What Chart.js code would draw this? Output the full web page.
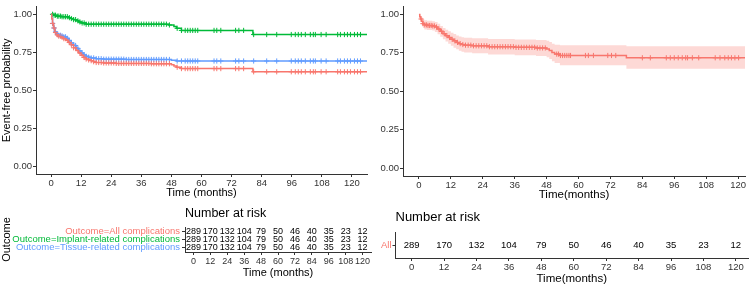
<!DOCTYPE html>
<html><head><meta charset="utf-8">
<script src="https://cdn.jsdelivr.net/npm/chart.js@4"></script>
<style>
html,body{margin:0;padding:0;background:#fff;width:750px;height:286px;overflow:hidden}
canvas{position:absolute}
</style></head><body>
<canvas id="kmLeft" width="372" height="200" style="left:0px;top:0px"></canvas>
<canvas id="kmRight" width="370" height="202" style="left:380px;top:0px"></canvas>
<canvas id="riskLeft" width="372" height="86" style="left:0px;top:200px"></canvas>
<canvas id="riskRight" width="370" height="84" style="left:380px;top:202px"></canvas>
<script>
const FONT = "'Liberation Sans', Arial, sans-serif";
const RED = '#F8766D', GREEN = '#00BA38', BLUE = '#619CFF';

const xTickValues = [0, 12, 24, 36, 48, 60, 72, 84, 96, 108, 120];
const yTickValues = [0, 0.25, 0.5, 0.75, 1];

// Left panel: All complications
const allTimes = [0, 0.3, 0.6, 1, 1.5, 2, 3, 4, 5, 6, 7, 8, 9, 10, 11, 12, 13, 14, 15, 16, 17, 18, 21, 26, 40, 48, 49, 50, 52, 80.5, 126];
const allSurv  = [1.00, 0.97, 0.94, 0.91, 0.88, 0.865, 0.856, 0.85, 0.84, 0.83, 0.815, 0.80, 0.78, 0.762, 0.746, 0.73, 0.716, 0.706, 0.70, 0.695, 0.688, 0.683, 0.680, 0.677, 0.675, 0.668, 0.66, 0.652, 0.643, 0.622, 0.622];
// Left panel: Implant-related complications
const implantTimes = [0, 1, 2, 4, 7, 8, 9, 10, 11, 12, 14, 47, 49, 50, 52, 80.5, 126];
const implantSurv  = [1.00, 0.994, 0.988, 0.984, 0.978, 0.972, 0.965, 0.957, 0.95, 0.943, 0.935, 0.93, 0.92, 0.908, 0.894, 0.867, 0.867];
// Left panel: Tissue-related complications
const tissueTimes = [0, 0.3, 0.6, 1, 1.5, 2, 3, 4, 5, 6, 7, 8, 9, 10, 11, 12, 13, 14, 15, 16, 18, 21, 30, 48, 50, 126];
const tissueSurv  = [1.00, 0.97, 0.94, 0.91, 0.885, 0.87, 0.862, 0.858, 0.852, 0.842, 0.828, 0.812, 0.795, 0.776, 0.76, 0.746, 0.733, 0.724, 0.718, 0.713, 0.708, 0.705, 0.703, 0.698, 0.693, 0.693];
const censorLeft = [0.6,1.2,1.8,2.5,3.1,3.8,4.4,5.1,5.8,6.5,7.3,8.1,9,9.8,10.7,11.5,12.4,13.2,14,15,16,17,18,19,20,21,22,23,24,25,26,27,28,29,30,31,32,33,34,35,36,37,38,39,40,41,42,43,44,45,46,47.2,50.3,52,53.5,54.5,55.5,56.5,57.5,58.5,65,66.1,67.7,73.6,74.9,76.8,80.8,86,90,95.8,97.4,98.6,99.8,101.4,103.4,104.6,105.4,107.7,109.7,114.3,115.4,117,118.2,119.4,121,122.2,123.4];

// Right panel: overall with confidence band
const overallTimes = [0, 0.3, 0.6, 1, 1.5, 2, 3, 5, 6, 7, 8, 9, 10, 11, 12, 13, 14, 15, 16, 17, 20, 26, 36, 44, 48, 49, 50, 51, 53, 78, 126];
const overallSurv  = [1.0, 0.985, 0.97, 0.955, 0.94, 0.932, 0.928, 0.925, 0.918, 0.905, 0.89, 0.875, 0.862, 0.85, 0.838, 0.828, 0.818, 0.81, 0.804, 0.80, 0.796, 0.79, 0.786, 0.782, 0.775, 0.765, 0.752, 0.742, 0.733, 0.718, 0.718];
const overallUpper = [1.0, 1.0, 0.99, 0.98, 0.97, 0.962, 0.958, 0.955, 0.95, 0.94, 0.925, 0.912, 0.9, 0.89, 0.88, 0.872, 0.863, 0.856, 0.851, 0.848, 0.845, 0.84, 0.837, 0.834, 0.828, 0.82, 0.81, 0.803, 0.80, 0.793, 0.793];
const overallLower = [1.0, 0.97, 0.95, 0.93, 0.912, 0.902, 0.898, 0.895, 0.886, 0.871, 0.855, 0.838, 0.824, 0.81, 0.796, 0.784, 0.773, 0.764, 0.757, 0.752, 0.747, 0.74, 0.735, 0.73, 0.722, 0.71, 0.695, 0.684, 0.67, 0.647, 0.647];
const censorRight = [0.8,1.5,2.2,2.8,3.4,4,4.6,5.2,5.8,6.6,7.5,8.5,9.5,10.5,11.5,12.5,13.5,14.5,15.5,16.5,17.5,18.5,19.5,20.5,21.5,22.5,23.5,24.5,25.5,26.5,27.5,28.5,29.5,30.5,31.5,32.5,33.5,34.5,35.5,36.5,37.5,38.5,39.5,40.5,41.5,42.5,43.5,44.5,45.5,46.5,47.5,51.8,52.5,53.2,54,54.8,55.6,56.4,57,62.6,63.7,65.6,71,72.4,74,84,87,93,94.5,96,97.5,99,100.3,101,102.8,105.2,111.4,113.2,115,116.3,117.5,118.8,120.2];

// Number at risk
const riskTimes = [0, 12, 24, 36, 48, 60, 72, 84, 96, 108, 120];
const riskAll     = [289, 170, 132, 104, 79, 50, 46, 40, 35, 23, 12];
const riskImplant = [289, 170, 132, 104, 79, 50, 46, 40, 35, 23, 12];
const riskTissue  = [289, 170, 132, 104, 79, 50, 46, 40, 35, 23, 12];
const riskOverall = [289, 170, 132, 104, 79, 50, 46, 40, 35, 23, 12];
const rowLabelsLeft = ['Outcome=All complications', 'Outcome=Implant-related complications', 'Outcome=Tissue-related complications'];
const rowColorsLeft = [RED, GREEN, BLUE];
const rowLabelsRight = ['All'];
const rowColorsRight = [RED];

function stepAt(times, surv, t) {
  let v = surv[0];
  for (let i = 0; i < times.length; i++) { if (times[i] <= t) v = surv[i]; else break; }
  return v;
}
function stepData(times, vals) { return times.map((t, i) => ({x: t, y: vals[i]})); }
function lineDs(times, surv, color) {
  return {data: stepData(times, surv), showLine: true, stepped: true, borderColor: color, borderWidth: 1.5, pointRadius: 0, fill: false};
}
function censDs(times, surv, cens, color) {
  return {data: cens.map(t => ({x: t, y: stepAt(times, surv, t)})), showLine: false, pointStyle: 'cross', pointRadius: 2.6, borderColor: color, backgroundColor: color, borderWidth: 1};
}

function xAxis(min, max, title, titleSize, tickSize, padBottom, height) {
  return {
    type: 'linear', min, max,
    afterBuildTicks: s => { s.ticks = xTickValues.map(v => ({value: v})); },
    afterFit: s => { s.height = height; },
    grid: {display: true, drawOnChartArea: false, drawTicks: true, tickLength: 3, color: '#333', tickColor: '#333'},
    border: {display: true, color: '#333', width: 1},
    ticks: {font: {family: FONT, size: tickSize}, color: '#333', padding: 1, maxRotation: 0, autoSkip: false, callback: v => String(v)},
    title: {display: true, text: title, font: {family: FONT, size: titleSize}, color: '#000', padding: {top: 0, bottom: padBottom}}
  };
}
function yAxisKM(width, titleText) {
  return {
    type: 'linear', min: -0.05, max: 1.05,
    afterBuildTicks: s => { s.ticks = yTickValues.map(v => ({value: v})); },
    afterFit: s => { s.width = width; },
    grid: {display: true, drawOnChartArea: false, drawTicks: true, tickLength: 3, color: '#333', tickColor: '#333'},
    border: {display: true, color: '#333', width: 1},
    ticks: {font: {family: FONT, size: 9.5}, color: '#333', padding: 1, callback: v => Number(v).toFixed(2)},
    title: {display: !!titleText, text: titleText || '', font: {family: FONT, size: 11}, color: '#000', padding: {top: 0, bottom: 0}}
  };
}
const baseOpts = {responsive: false, animation: false, devicePixelRatio: 1, events: []};

new Chart(document.getElementById('kmLeft'), {
  type: 'scatter',
  data: {datasets: [
    lineDs(allTimes, allSurv, RED),
    lineDs(implantTimes, implantSurv, GREEN),
    lineDs(tissueTimes, tissueSurv, BLUE),
    censDs(allTimes, allSurv, censorLeft, RED),
    censDs(implantTimes, implantSurv, censorLeft, GREEN),
    censDs(tissueTimes, tissueSurv, censorLeft, BLUE)
  ]},
  options: Object.assign({}, baseOpts, {
    layout: {padding: {top: 5, right: 2, left: 0, bottom: 0}},
    plugins: {legend: {display: false}, tooltip: {enabled: false}},
    scales: {x: xAxis(-6, 126, 'Time (months)', 11, 9.5, 0, 26), y: yAxisKM(36, 'Event-free probability')}
  })
});

new Chart(document.getElementById('kmRight'), {
  type: 'scatter',
  data: {datasets: [
    lineDs(overallTimes, overallSurv, RED),
    censDs(overallTimes, overallSurv, censorRight, RED),
    {data: stepData(overallTimes, overallUpper), showLine: true, stepped: true, borderWidth: 0, borderColor: 'rgba(0,0,0,0)', pointRadius: 0, fill: '+1', backgroundColor: 'rgba(248,118,109,0.28)'},
    {data: stepData(overallTimes, overallLower), showLine: true, stepped: true, borderWidth: 0, borderColor: 'rgba(0,0,0,0)', pointRadius: 0, fill: false}
  ]},
  options: Object.assign({}, baseOpts, {
    layout: {padding: {top: 1, right: 2, left: 0, bottom: 0}},
    plugins: {legend: {display: false}, tooltip: {enabled: false}, filler: {propagate: false}},
    scales: {x: xAxis(-6, 122.6, 'Time(months)', 11.5, 9.5, 0, 26), y: yAxisKM(23, '')}
  })
});

const riskTextPlugin = {
  id: 'riskText',
  afterDraw(chart, args, opts) {
    const {ctx} = chart;
    const x = chart.scales.x, y = chart.scales.y;
    ctx.save();
    ctx.fillStyle = '#000';
    ctx.textAlign = 'center';
    ctx.textBaseline = 'middle';
    ctx.font = opts.size + 'px ' + FONT;
    opts.rows.forEach((row, ri) => {
      const py = y.getPixelForValue(ri);
      row.forEach((n, i) => ctx.fillText(String(n), x.getPixelForValue(riskTimes[i]), py));
    });
    ctx.textAlign = 'left';
    ctx.font = opts.titleSize + 'px ' + FONT;
    ctx.fillText(opts.title, chart.chartArea.left, opts.titleY);
    ctx.restore();
  }
};

function riskChart(id, labels, colors, rows, cfg) {
  new Chart(document.getElementById(id), {
    type: 'scatter',
    data: {datasets: []},
    plugins: [riskTextPlugin],
    options: Object.assign({}, baseOpts, {
      layout: {padding: {top: cfg.padTop, right: cfg.padRight, left: 0, bottom: 0}},
      plugins: {legend: {display: false}, tooltip: {enabled: false},
        riskText: {rows, size: cfg.numSize, title: 'Number at risk', titleSize: cfg.titleSize, titleY: cfg.titleY}},
      scales: {
        x: xAxis(-6, cfg.xmax, cfg.xTitle, cfg.xTitleSize, cfg.xTickSize, cfg.xPadBottom, cfg.xHeight),
        y: {
          type: 'category', labels, offset: true,
          afterFit: s => { s.width = cfg.yWidth; },
          grid: {display: true, drawOnChartArea: false, drawTicks: true, tickLength: 3, offset: false, color: '#333', tickColor: '#333'},
          border: {display: true, color: '#333', width: 1},
          ticks: {font: {family: FONT, size: 9.5}, padding: cfg.yTickPad, autoSkip: false, color: c => colors[c.index]},
          title: {display: !!cfg.yTitle, text: cfg.yTitle || '', font: {family: FONT, size: 11}, color: '#000', padding: {top: 0, bottom: 0}}
        }
      }
    })
  });
}

riskChart('riskLeft', rowLabelsLeft, rowColorsLeft, [riskAll, riskImplant, riskTissue],
  {padTop: 27, padRight: 1, numSize: 9, titleSize: 12.5, titleY: 14, xmax: 126, xTitle: 'Time (months)', xTitleSize: 11, xTickSize: 9, xPadBottom: 6, xHeight: 34, yWidth: 185, yTickPad: 2, yTitle: 'Outcome'});
riskChart('riskRight', rowLabelsRight, rowColorsRight, [riskOverall],
  {padTop: 30, padRight: 2, numSize: 9.5, titleSize: 13, titleY: 15, xmax: 124.5, xTitle: 'Time(months)', xTitleSize: 11.5, xTickSize: 9.5, xPadBottom: 0, xHeight: 28, yWidth: 15.5, yTickPad: 1, yTitle: ''});
</script>
</body></html>
